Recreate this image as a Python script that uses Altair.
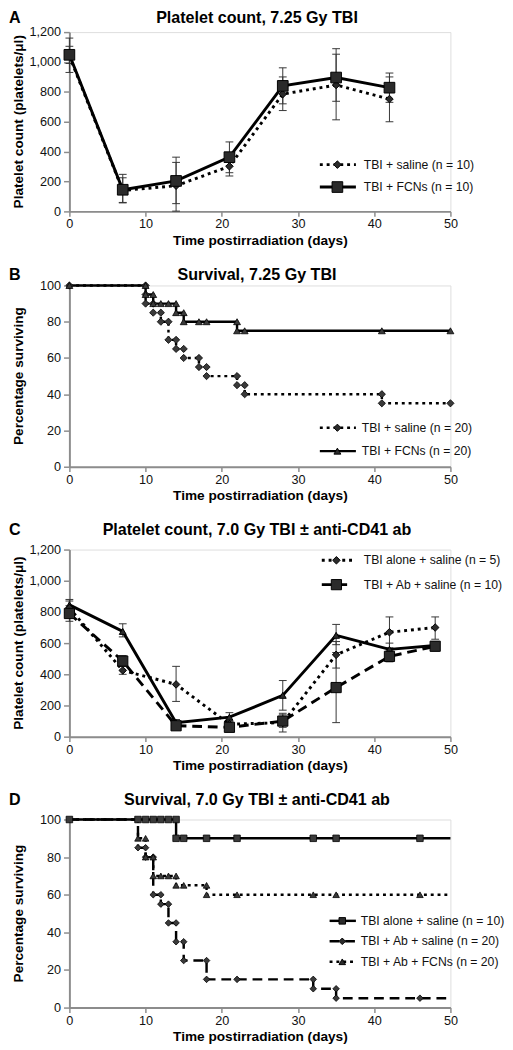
import altair as alt
import pandas as pd

FONT = "Liberation Sans"
GRAY = "#8c8c8c"
W = 391

# ---------------- Panel A: platelet count, 7.25 Gy TBI ----------------
a_days = [0, 7, 14, 21, 28, 35, 42]
a_saline = [1040, 140, 172, 302, 785, 846, 752]
a_saline_lo = [930, 60, 2, 237, 675, 613, 600]
a_saline_hi = [1160, 225, 363, 367, 900, 1089, 900]
a_fcn = [1048, 145, 204, 363, 840, 896, 828]
a_fcn_lo = [990, 57, 52, 259, 720, 737, 730]
a_fcn_hi = [1105, 248, 328, 465, 961, 1052, 926]

# ---------------- Panel B: survival, 7.25 Gy TBI ----------------
b_fcn_step_days = [0, 10, 11, 14, 15, 22, 50]
b_fcn_step_pct = [100, 95, 90, 85, 80, 75, 75]
b_fcn_mark_days = [0, 10, 10, 11, 11, 12, 13, 14, 14, 15, 15, 17, 18, 22, 22, 23, 41, 50]
b_fcn_mark_pct = [100, 100, 95, 95, 90, 90, 90, 90, 85, 85, 80, 80, 80, 80, 75, 75, 75, 75]
b_sal_step_days = [0, 10, 11, 12, 13, 14, 15, 17, 18, 22, 23, 41, 50]
b_sal_step_pct = [100, 90, 85, 80, 70, 65, 60, 55, 50, 45, 40, 35, 35]
b_sal_mark_days = [0, 10, 10, 10, 11, 11, 12, 12, 13, 13, 14, 14, 15, 15, 17, 17, 18, 18, 22, 22, 23, 23, 41, 41, 50]
b_sal_mark_pct = [100, 100, 95, 90, 90, 85, 85, 80, 80, 70, 70, 65, 65, 60, 60, 55, 55, 50, 50, 45, 45, 40, 40, 35, 35]

# ---------------- Panel C: platelet count, 7.0 Gy TBI +/- anti-CD41 ----------------
c_days = [0, 7, 14, 21, 28, 35, 42, 48]
c_fcn = [845, 675, 90, 125, 265, 650, 560, 585]
c_fcn_lo = [800, 640, 70, 100, 170, 590, 520, 560]
c_fcn_hi = [880, 724, 110, 154, 360, 720, 600, 610]
c_alone = [825, 425, 335, 80, 90, 525, 670, 700]
c_alone_lo = [770, 400, 226, 60, 30, 440, 570, 625]
c_alone_hi = [870, 450, 451, 100, 150, 610, 768, 768]
c_ab = [790, 485, 70, 60, 100, 315, 515, 580]
c_ab_lo = [740, 450, 55, 45, 60, 90, 480, 550]
c_ab_hi = [840, 520, 85, 75, 140, 540, 550, 610]

# ---------------- Panel D: survival, 7.0 Gy TBI +/- anti-CD41 ----------------
d_alone_step_days = [0, 14, 50]
d_alone_step_pct = [100, 90, 90]
d_alone_mark_days = [0, 9, 10, 11, 12, 13, 14, 14, 15, 18, 22, 32, 35, 46]
d_alone_mark_pct = [100, 100, 100, 100, 100, 100, 100, 90, 90, 90, 90, 90, 90, 90]
d_abs_step_days = [0, 9, 10, 11, 12, 13, 14, 15, 18, 32, 35, 50]
d_abs_step_pct = [100, 85, 80, 60, 55, 45, 35, 25, 15, 10, 5, 5]
d_abs_mark_days = [9, 10, 10, 11, 11, 12, 12, 13, 13, 14, 14, 15, 15, 18, 18, 22, 32, 32, 35, 35, 46]
d_abs_mark_pct = [85, 85, 80, 80, 60, 60, 55, 55, 45, 45, 35, 35, 25, 25, 15, 15, 15, 10, 10, 5, 5]
d_abf_step_days = [0, 9, 10, 11, 14, 18, 50]
d_abf_step_pct = [100, 90, 80, 70, 65, 60, 60]
d_abf_mark_days = [9, 10, 10, 11, 11, 12, 13, 14, 14, 15, 18, 18, 22, 32, 35, 46]
d_abf_mark_pct = [90, 90, 80, 80, 70, 70, 70, 70, 65, 65, 65, 60, 60, 60, 60, 60]

X_TICKS = [0, 10, 20, 30, 40, 50]
PLT_TICKS = [0, 200, 400, 600, 800, 1000, 1200]
SURV_TICKS = [0, 20, 40, 60, 80, 100]

DOT = [3, 4]
DASH = [10, 6]


def x_axis():
    return alt.Axis(values=X_TICKS, format="d", title="Time postirradiation (days)", grid=False,
                    domainColor=GRAY, domainWidth=2, tickColor=GRAY, tickWidth=1.5, tickSize=5,
                    labelFont=FONT, labelFontSize=13, labelColor="#111", labelPadding=2, labelFlush=False,
                    titleFont=FONT, titleFontSize=14, titleFontWeight="bold", titleColor="black",
                    titlePadding=3)


def y_axis(values, fmt):
    return alt.Axis(values=values, format=fmt, title=None, grid=False,
                    domainColor=GRAY, domainWidth=2, tickColor=GRAY, tickWidth=1.5, tickSize=6,
                    labelFont=FONT, labelFontSize=13, labelColor="#111", labelPadding=3, labelFlush=False)


def ytitle_layer(text, h):
    return alt.Chart(pd.DataFrame({"t": [text]})).mark_text(
        angle=270, align="center", baseline="middle", font=FONT, fontSize=14, fontWeight="bold",
        color="black").encode(x=alt.value(-52), y=alt.value(h / 2), text="t:N")


def legend_layers(entries, x0, x1, xm, xt, lw):
    out = []
    one = pd.DataFrame({"k": [0]})
    for e in entries:
        kw = dict(color="black", strokeWidth=lw)
        if e["dash"]:
            kw["strokeDash"] = e["dash"]
        out.append(alt.Chart(one).mark_rule(**kw).encode(
            x=alt.value(x0), x2=alt.value(x1), y=alt.value(e["y"])))
        out.append(alt.Chart(one).mark_point(shape=e["shape"], filled=True, size=e["size"],
                                             color="#2b2b2b", stroke="black", strokeWidth=1, opacity=1).encode(
            x=alt.value(xm), y=alt.value(e["y"])))
        out.append(alt.Chart(pd.DataFrame({"t": [e["label"]]})).mark_text(
            align="left", baseline="middle", font=FONT, fontSize=12.5, color="#111").encode(
            x=alt.value(xt), y=alt.value(e["y"]), text="t:N"))
    return out


def header_layers(letter, title, ty):
    # panel letter at the left and the bold panel title centred over the plot
    lt = alt.Chart(pd.DataFrame({"t": [letter]})).mark_text(
        align="left", baseline="top", font=FONT, fontSize=16.5, fontWeight="bold", color="black").encode(
        x=alt.value(-62), y=alt.value(ty), text="t:N")
    tt = alt.Chart(pd.DataFrame({"t": [title]})).mark_text(
        align="center", baseline="top", font=FONT, fontSize=16.5, fontWeight="bold", color="black").encode(
        x=alt.value(W / 2 - 3), y=alt.value(ty), text="t:N")
    return [lt, tt]


def platelet_panel(series, h, title, letter, ty, legend, legend_pos):
    xax = x_axis()
    yax = y_axis(PLT_TICKS, ",d")
    xs = alt.Scale(domain=[0, 50], nice=False)
    ys = alt.Scale(domain=[0, 1200], nice=False)

    def X(f):
        return alt.X(f + ":Q", scale=xs, axis=xax)

    def Y(f):
        return alt.Y(f + ":Q", scale=ys, axis=yax)

    err, lines, pts = [], [], []
    for s in series:
        df = pd.DataFrame({"d": s["days"], "v": s["vals"], "lo": s["lo"], "hi": s["hi"]})
        base = alt.Chart(df)
        err.append(base.mark_rule(color="#333", strokeWidth=1).encode(x=X("d"), y=Y("lo"), y2="hi:Q"))
        err.append(base.mark_point(shape="stroke", size=64, color="#333", strokeWidth=1, opacity=1).encode(x=X("d"), y=Y("lo")))
        err.append(base.mark_point(shape="stroke", size=64, color="#333", strokeWidth=1, opacity=1).encode(x=X("d"), y=Y("hi")))
        kw = dict(color="black", strokeWidth=3)
        if s["dash"]:
            kw["strokeDash"] = s["dash"]
        lines.append(base.mark_line(**kw).encode(x=X("d"), y=Y("v")))
        pts.append(base.mark_point(shape=s["shape"], filled=True, size=s["size"], color="#2b2b2b",
                                   stroke="black", strokeWidth=1, opacity=1).encode(x=X("d"), y=Y("v")))
    layers = (err + lines + pts + legend_layers(legend, *legend_pos, 3) + header_layers(letter, title, ty)
              + [ytitle_layer("Platelet count (platelets/\u03bcl)", h)])
    return alt.layer(*layers).properties(width=W, height=h)


def km_panel(series, h, title, letter, ty, legend, legend_pos):
    xax = x_axis()
    yax = y_axis(SURV_TICKS, "d")
    xs = alt.Scale(domain=[0, 50], nice=False)
    ys = alt.Scale(domain=[0, 100], nice=False)

    def X(f):
        return alt.X(f + ":Q", scale=xs, axis=xax)

    def Y(f):
        return alt.Y(f + ":Q", scale=ys, axis=yax)

    lines, pts = [], []
    for s in series:
        sdf = pd.DataFrame({"d": s["step_days"], "v": s["step_pct"]})
        mdf = pd.DataFrame({"d": s["mark_days"], "v": s["mark_pct"]})
        kw = dict(color="black", strokeWidth=2.5, interpolate="step-after")
        if s["dash"]:
            kw["strokeDash"] = s["dash"]
        lines.append(alt.Chart(sdf).mark_line(**kw).encode(x=X("d"), y=Y("v")))
        pts.append(alt.Chart(mdf).mark_point(shape=s["shape"], filled=True, size=s["size"], color="#3a3a3a",
                                             stroke="black", strokeWidth=0.8, opacity=1).encode(x=X("d"), y=Y("v")))
    layers = (lines + pts + legend_layers(legend, *legend_pos, 2.5) + header_layers(letter, title, ty)
              + [ytitle_layer("Percentage surviving", h)])
    return alt.layer(*layers).properties(width=W, height=h)


panel_a = platelet_panel(
    [
        dict(days=a_days, vals=a_saline, lo=a_saline_lo, hi=a_saline_hi, dash=DOT, shape="diamond", size=60),
        dict(days=a_days, vals=a_fcn, lo=a_fcn_lo, hi=a_fcn_hi, dash=None, shape="square", size=120),
    ],
    184, "Platelet count, 7.25 Gy TBI", "A", -22,
    [
        dict(label="TBI + saline (n = 10)", y=136, dash=DOT, shape="diamond", size=60),
        dict(label="TBI + FCNs (n = 10)", y=159, dash=None, shape="square", size=120),
    ],
    (257, 294, 275, 302),
)

panel_b = km_panel(
    [
        dict(step_days=b_sal_step_days, step_pct=b_sal_step_pct, mark_days=b_sal_mark_days,
             mark_pct=b_sal_mark_pct, dash=DOT, shape="diamond", size=55),
        dict(step_days=b_fcn_step_days, step_pct=b_fcn_step_pct, mark_days=b_fcn_mark_days,
             mark_pct=b_fcn_mark_pct, dash=None, shape="triangle-up", size=50),
    ],
    186, "Survival, 7.25 Gy TBI", "B", -19,
    [
        dict(label="TBI + saline (n = 20)", y=146, dash=DOT, shape="diamond", size=55),
        dict(label="TBI + FCNs (n = 20)", y=170, dash=None, shape="triangle-up", size=50),
    ],
    (257, 294, 275, 300),
)

panel_c = platelet_panel(
    [
        dict(days=c_days, vals=c_fcn, lo=c_fcn_lo, hi=c_fcn_hi, dash=None, shape="triangle-up", size=50),
        dict(days=c_days, vals=c_alone, lo=c_alone_lo, hi=c_alone_hi, dash=DOT, shape="diamond", size=60),
        dict(days=c_days, vals=c_ab, lo=c_ab_lo, hi=c_ab_hi, dash=DASH, shape="square", size=110),
    ],
    192, "Platelet count, 7.0 Gy TBI \u00b1 anti-CD41 ab", "C", -28,
    [
        dict(label="TBI alone + saline (n = 5)", y=11, dash=DOT, shape="diamond", size=60),
        dict(label="TBI + Ab + saline (n = 10)", y=36, dash=DASH, shape="square", size=110),
    ],
    (259, 290, 274, 302),
)

panel_d = km_panel(
    [
        dict(step_days=d_alone_step_days, step_pct=d_alone_step_pct, mark_days=d_alone_mark_days,
             mark_pct=d_alone_mark_pct, dash=None, shape="square", size=45),
        dict(step_days=d_abs_step_days, step_pct=d_abs_step_pct, mark_days=d_abs_mark_days,
             mark_pct=d_abs_mark_pct, dash=DASH, shape="diamond", size=45),
        dict(step_days=d_abf_step_days, step_pct=d_abf_step_pct, mark_days=d_abf_mark_days,
             mark_pct=d_abf_mark_pct, dash=DOT, shape="triangle-up", size=45),
    ],
    193, "Survival, 7.0 Gy TBI \u00b1 anti-CD41 ab", "D", -28,
    [
        dict(label="TBI alone + saline (n = 10)", y=104, dash=None, shape="square", size=45),
        dict(label="TBI + Ab + saline (n = 20)", y=125, dash=DASH, shape="diamond", size=45),
        dict(label="TBI + Ab + FCNs (n = 20)", y=146, dash=DOT, shape="triangle-up", size=45),
    ],
    (267, 294, 280, 299),
)

chart = alt.vconcat(panel_a, panel_b, panel_c, panel_d, spacing=18).properties(
    padding={"left": 0, "top": -12, "right": 0, "bottom": 0}
).configure_view(stroke=None).configure(background="white")

chart.save("out.html", embed_options={"renderer": "svg", "actions": False})
